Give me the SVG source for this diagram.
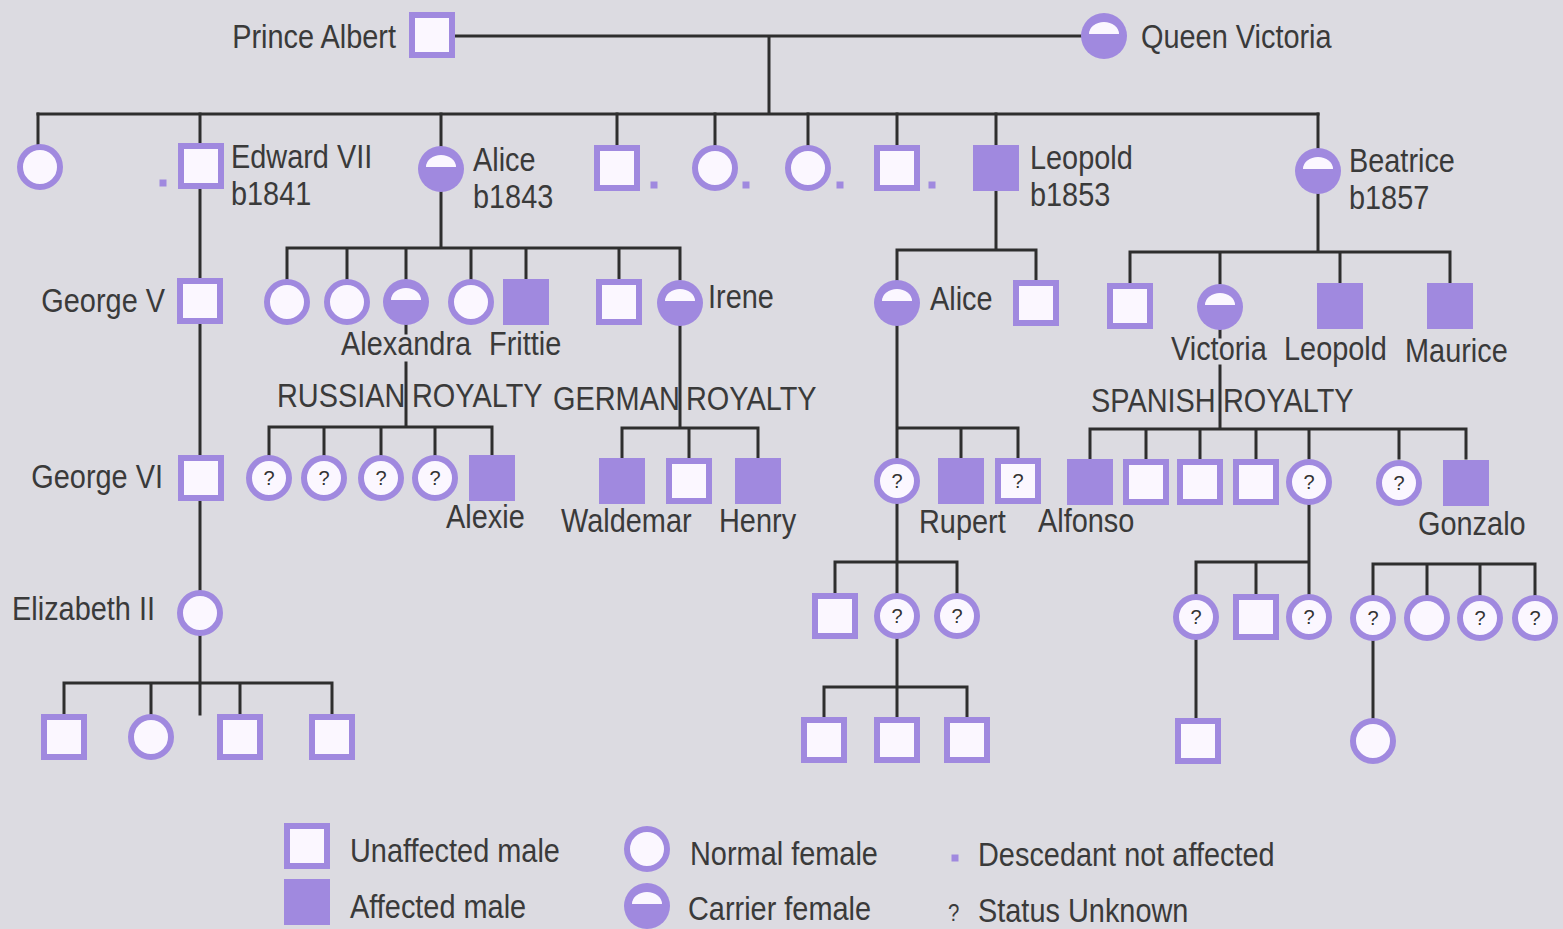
<svg xmlns="http://www.w3.org/2000/svg" xmlns:xlink="http://www.w3.org/1999/xlink" width="1563" height="929" viewBox="0 0 1563 929">
<style>
.u{fill:#fbf7ff;stroke:#a089df;stroke-width:6}
.a{fill:#a089df}
.ln{stroke:#2e2e2e;stroke-width:3;fill:none;stroke-linecap:square}
.t{font-family:"Liberation Sans",Arial,sans-serif;font-size:34px;fill:#3a3a3a}
.s{font-size:33px}
.e{text-anchor:end}
.q{font-family:"Liberation Sans",Arial,sans-serif;font-size:20px;fill:#333;text-anchor:middle}
</style>
<defs>
<g id="sq"><rect x="-20" y="-20" width="40" height="40" class="u"/></g>
<g id="asq"><rect x="-23" y="-23" width="46" height="46" class="a"/></g>
<g id="qsq"><rect x="-20" y="-20" width="40" height="40" class="u"/><text class="q" y="7">?</text></g>
<g id="nf"><circle r="20" class="u"/></g>
<g id="qf"><circle r="20" class="u"/><text class="q" y="7">?</text></g>
<g id="cf"><circle r="23" class="a"/><path d="M-15 -2A15 12 0 0 1 15 -2Z" fill="#fbf7ff"/></g>
<g id="dot"><rect x="-3.5" y="-3.5" width="7" height="7" class="a"/></g>
</defs>
<rect width="1563" height="929" fill="#dcdbe1"/>

<g id="connectors" class="ln">
<path d="M455 36H1081M769 36V114M38 114H1318"/>
<path d="M38 114V145M200 114V143M441 114V146M617 114V145M715 114V145M808 114V145M897 114V145M996 114V145M1318 114V148"/>
<path d="M200 189V714M64 683H332M64 683V714M151 683V714M240 683V714M332 683V714"/>
<path d="M441 192V248M287 248H680M287 248V279M347 248V279M406 248V279M471 248V279M526 248V279M619 248V279M680 248V279"/>
<path d="M406 325V333M406 363V427M269 427H492M269 427V455M324 427V455M381 427V455M435 427V455M492 427V455"/>
<path d="M680 326V428M622 428H758M622 428V458M689 428V458M758 428V458"/>
<path d="M996 191V250M897 250H1036M897 250V280M1036 250V280"/>
<path d="M897 326V717M897 428H1018M961 428V458M1018 428V458M835 562H957M835 562V593M957 562V593M824 687H967M824 687V717M967 687V717"/>
<path d="M1318 194V252M1130 252H1450M1130 252V283M1220 252V283M1340 252V283M1450 252V283"/>
<path d="M1220 330V337M1220 366V429M1090 429H1466M1090 429V458M1146 429V458M1200 429V458M1256 429V458M1309 429V458M1399 429V458M1466 429V458"/>
<path d="M1309 505V594M1196 562H1309M1196 562V594M1256 562V594M1196 640V718"/>
<path d="M1373 564H1535M1373 564V595M1427 564V595M1480 564V595M1535 564V595M1373 641V718"/>
</g>

<g id="prince-albert"><use href="#sq" x="432" y="35"/><text class="t e" transform="translate(396,48) scale(.85,1)">Prince Albert</text></g>
<g id="queen-victoria"><use href="#cf" x="1104" y="36"/><text class="t" transform="translate(1141,48) scale(.85,1)">Queen Victoria</text></g>

<g id="g2-daughter1"><use href="#nf" x="40" y="167"/></g>
<g id="edward-vii"><use href="#sq" x="201" y="166"/><use href="#dot" x="163" y="183"/><text class="t s" transform="translate(231,168) scale(.875,1)">Edward VII</text><text class="t s" transform="translate(231,205) scale(.875,1)">b1841</text></g>
<g id="alice"><use href="#cf" x="441" y="169"/><text class="t s" transform="translate(473,171) scale(.875,1)">Alice</text><text class="t s" transform="translate(473,208) scale(.875,1)">b1843</text></g>
<g id="g2-son2"><use href="#sq" x="617" y="168"/><use href="#dot" x="654" y="185"/></g>
<g id="g2-daughter3"><use href="#nf" x="715" y="168"/><use href="#dot" x="746" y="185"/></g>
<g id="g2-daughter4"><use href="#nf" x="808" y="168"/><use href="#dot" x="840" y="185"/></g>
<g id="g2-son3"><use href="#sq" x="897" y="168"/><use href="#dot" x="932" y="185"/></g>
<g id="leopold"><use href="#asq" x="996" y="168"/><text class="t s" transform="translate(1030,169) scale(.875,1)">Leopold</text><text class="t s" transform="translate(1030,206) scale(.875,1)">b1853</text></g>
<g id="beatrice"><use href="#cf" x="1318" y="171"/><text class="t s" transform="translate(1349,172) scale(.875,1)">Beatrice</text><text class="t s" transform="translate(1349,209) scale(.875,1)">b1857</text></g>

<g id="george-v"><use href="#sq" x="200" y="301"/><text class="t e" transform="translate(165,312) scale(.85,1)">George V</text></g>
<g id="george-vi"><use href="#sq" x="201" y="478"/><text class="t e" transform="translate(163,488) scale(.85,1)">George VI</text></g>
<g id="elizabeth-ii"><use href="#nf" x="200" y="613"/><text class="t e" transform="translate(155,620) scale(.85,1)">Elizabeth II</text></g>
<g id="eliz-c1"><use href="#sq" x="64" y="737"/></g>
<g id="eliz-c2"><use href="#nf" x="151" y="737"/></g>
<g id="eliz-c3"><use href="#sq" x="240" y="737"/></g>
<g id="eliz-c4"><use href="#sq" x="332" y="737"/></g>

<g id="alice-c1"><use href="#nf" x="287" y="302"/></g>
<g id="alice-c2"><use href="#nf" x="347" y="302"/></g>
<g id="alexandra"><use href="#cf" x="406" y="302"/><text class="t" transform="translate(341,355) scale(.85,1)">Alexandra</text></g>
<g id="alice-c4"><use href="#nf" x="471" y="302"/></g>
<g id="frittie"><use href="#asq" x="526" y="302"/><text class="t" transform="translate(489,355) scale(.85,1)">Frittie</text></g>
<g id="alice-c6"><use href="#sq" x="619" y="302"/></g>
<g id="irene"><use href="#cf" x="680" y="303"/><text class="t" transform="translate(708,308) scale(.85,1)">Irene</text></g>

<g id="russian-royalty"><text class="t" transform="translate(277,407) scale(.85,1)">RUSSIAN</text><text class="t" transform="translate(412,407) scale(.85,1)">ROYALTY</text></g>
<g id="rus-c1"><use href="#qf" x="269" y="478"/></g>
<g id="rus-c2"><use href="#qf" x="324" y="478"/></g>
<g id="rus-c3"><use href="#qf" x="381" y="478"/></g>
<g id="rus-c4"><use href="#qf" x="435" y="478"/></g>
<g id="alexie"><use href="#asq" x="492" y="478"/><text class="t" transform="translate(446,528) scale(.85,1)">Alexie</text></g>

<g id="german-royalty"><text class="t" transform="translate(553,410) scale(.85,1)">GERMAN</text><text class="t" transform="translate(686,410) scale(.85,1)">ROYALTY</text></g>
<g id="waldemar"><use href="#asq" x="622" y="481"/><text class="t" transform="translate(561,532) scale(.85,1)">Waldemar</text></g>
<g id="ger-c2"><use href="#sq" x="689" y="481"/></g>
<g id="henry"><use href="#asq" x="758" y="481"/><text class="t" transform="translate(719,532) scale(.85,1)">Henry</text></g>

<g id="alice-leopold"><use href="#cf" x="897" y="303"/><text class="t" transform="translate(930,310) scale(.85,1)">Alice</text></g>
<g id="leo-c2"><use href="#sq" x="1036" y="303"/></g>
<g id="al-c1"><use href="#qf" x="897" y="481"/></g>
<g id="rupert"><use href="#asq" x="961" y="481"/><text class="t" transform="translate(919,533) scale(.85,1)">Rupert</text></g>
<g id="al-c3"><use href="#qsq" x="1018" y="481"/></g>
<g id="al-g1"><use href="#sq" x="835" y="616"/></g>
<g id="al-g2"><use href="#qf" x="897" y="616"/></g>
<g id="al-g3"><use href="#qf" x="957" y="616"/></g>
<g id="al-gg1"><use href="#sq" x="824" y="740"/></g>
<g id="al-gg2"><use href="#sq" x="897" y="740"/></g>
<g id="al-gg3"><use href="#sq" x="967" y="740"/></g>

<g id="bea-c1"><use href="#sq" x="1130" y="306"/></g>
<g id="victoria"><use href="#cf" x="1220" y="307"/><text class="t" transform="translate(1171,360) scale(.85,1)">Victoria</text></g>
<g id="leopold-b"><use href="#asq" x="1340" y="306"/><text class="t" transform="translate(1284,360) scale(.85,1)">Leopold</text></g>
<g id="maurice"><use href="#asq" x="1450" y="306"/><text class="t" transform="translate(1405,362) scale(.85,1)">Maurice</text></g>

<g id="spanish-royalty"><text class="t" transform="translate(1091,412) scale(.85,1)">SPANISH</text><text class="t" transform="translate(1223,412) scale(.85,1)">ROYALTY</text></g>
<g id="alfonso"><use href="#asq" x="1090" y="482"/><text class="t" transform="translate(1038,532) scale(.85,1)">Alfonso</text></g>
<g id="spa-c2"><use href="#sq" x="1146" y="482"/></g>
<g id="spa-c3"><use href="#sq" x="1200" y="482"/></g>
<g id="spa-c4"><use href="#sq" x="1256" y="482"/></g>
<g id="spa-c5"><use href="#qf" x="1309" y="482"/></g>
<g id="spa-c6"><use href="#qf" x="1399" y="483"/></g>
<g id="gonzalo"><use href="#asq" x="1466" y="483"/><text class="t" transform="translate(1418,535) scale(.85,1)">Gonzalo</text></g>
<g id="spa-g1"><use href="#qf" x="1196" y="617"/></g>
<g id="spa-g2"><use href="#sq" x="1256" y="617"/></g>
<g id="spa-g3"><use href="#qf" x="1309" y="617"/></g>
<g id="spa-gg1"><use href="#sq" x="1198" y="741"/></g>
<g id="spb-g1"><use href="#qf" x="1373" y="618"/></g>
<g id="spb-g2"><use href="#nf" x="1427" y="618"/></g>
<g id="spb-g3"><use href="#qf" x="1480" y="618"/></g>
<g id="spb-g4"><use href="#qf" x="1535" y="618"/></g>
<g id="spb-gg1"><use href="#nf" x="1373" y="741"/></g>

<g id="legend">
<use href="#sq" x="307" y="846"/><text class="t" transform="translate(350,862) scale(.85,1)">Unaffected male</text>
<use href="#asq" x="307" y="902"/><text class="t" transform="translate(350,918) scale(.85,1)">Affected male</text>
<use href="#nf" x="647" y="849"/><text class="t" transform="translate(690,865) scale(.85,1)">Normal female</text>
<use href="#cf" x="647" y="906"/><text class="t" transform="translate(688,920) scale(.85,1)">Carrier female</text>
<use href="#dot" x="955" y="858"/><text class="t" transform="translate(978,866) scale(.85,1)">Descedant not affected</text>
<text class="t" transform="translate(948,921) scale(.85,1)" style="font-size:24px">?</text><text class="t" transform="translate(978,922) scale(.85,1)">Status Unknown</text>
</g>
</svg>
